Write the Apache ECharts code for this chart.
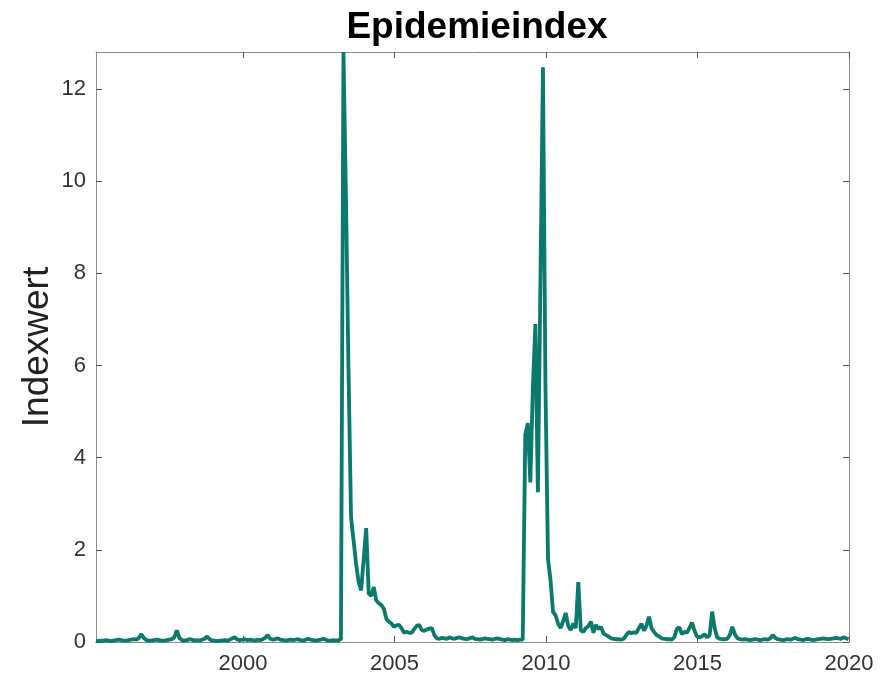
<!DOCTYPE html>
<html>
<head>
<meta charset="utf-8">
<title>Epidemieindex</title>
<script src="https://cdn.jsdelivr.net/npm/echarts@6/dist/echarts.min.js"></script>
<style>
  html, body { margin: 0; padding: 0; background: #fff; }
  #chart { width: 883px; height: 678px; }
</style>
</head>
<body>
<div id="chart"></div>
<script>
// monthly index values, first month at startYear
const startYear = 1995.15;
const indexValues = [
  0.03,0.02,0.03,0.03,0.04,0.03,0.02,0.03,0.04,0.05,0.04,0.03,
  0.03,0.04,0.05,0.06,0.05,0.09,0.17,0.08,0.04,0.03,0.03,0.04,
  0.05,0.04,0.03,0.03,0.04,0.05,0.06,0.10,0.25,0.09,0.04,0.03,
  0.04,0.06,0.05,0.03,0.04,0.03,0.05,0.07,0.12,0.06,0.03,0.03,
  0.02,0.03,0.03,0.04,0.03,0.05,0.08,0.10,0.05,0.04,0.05,0.06,
  0.04,0.05,0.04,0.03,0.05,0.04,0.06,0.09,0.15,0.07,0.05,0.06,
  0.08,0.05,0.04,0.03,0.04,0.05,0.04,0.05,0.06,0.04,0.03,0.05,
  0.07,0.05,0.04,0.03,0.04,0.05,0.07,0.05,0.03,0.03,0.04,0.03,
  0.04,0.06,12.8,9.6,5.9,2.7,2.2,1.7,1.3,1.12,1.8,2.47,
  1.05,1.0,1.19,0.9,0.84,0.8,0.72,0.5,0.44,0.4,0.33,0.36,
  0.37,0.3,0.2,0.22,0.2,0.2,0.28,0.35,0.37,0.26,0.24,0.27,
  0.29,0.3,0.15,0.08,0.07,0.09,0.08,0.07,0.1,0.08,0.07,0.09,
  0.1,0.08,0.07,0.06,0.08,0.1,0.07,0.06,0.05,0.06,0.08,0.07,
  0.06,0.05,0.07,0.08,0.06,0.05,0.04,0.06,0.05,0.04,0.05,0.04,
  0.05,0.05,4.5,4.75,3.46,5.5,6.9,3.25,7.8,12.47,5.5,1.8,
  1.35,0.65,0.58,0.4,0.3,0.45,0.63,0.35,0.26,0.4,0.3,1.3,
  0.25,0.22,0.3,0.35,0.44,0.2,0.37,0.28,0.33,0.18,0.15,0.12,
  0.08,0.07,0.06,0.06,0.05,0.07,0.15,0.22,0.19,0.21,0.2,0.3,
  0.4,0.25,0.35,0.55,0.3,0.22,0.15,0.12,0.08,0.07,0.06,0.06,
  0.05,0.1,0.28,0.32,0.17,0.22,0.2,0.3,0.42,0.25,0.12,0.1,
  0.12,0.17,0.1,0.15,0.66,0.3,0.1,0.07,0.06,0.06,0.07,0.15,
  0.33,0.17,0.08,0.06,0.05,0.06,0.05,0.04,0.05,0.06,0.05,0.04,
  0.05,0.06,0.05,0.08,0.15,0.09,0.06,0.05,0.04,0.05,0.06,0.05,
  0.07,0.09,0.06,0.05,0.04,0.06,0.07,0.05,0.04,0.05,0.06,0.07,
  0.08,0.07,0.06,0.07,0.08,0.09,0.08,0.07,0.1,0.08,0.06
];
const xTicks = [2000, 2005, 2010, 2015, 2020];
const yTicks = [0, 2, 4, 6, 8, 10, 12];

const seriesData = indexValues.map((v, i) => [startYear + i / 12, v]);

const chart = echarts.init(document.getElementById('chart'));

const axisLine = { show: true, onZero: false, lineStyle: { color: '#8c8c8c', width: 1 } };
const tick = { show: true, inside: true, length: 6, lineStyle: { color: '#555' } };
const font = 'Liberation Sans, Arial, sans-serif';

const option = {
  animation: false,
  title: {
    text: 'Epidemieindex',
    left: 472, top: 4, textAlign: 'center',
    textStyle: { fontFamily: font, fontSize: 37, fontWeight: 'bold', color: '#000' }
  },
  grid: { left: 96, right: 34, top: 52, bottom: 36 },
  xAxis: [
    {
      type: 'value', min: startYear, max: 2020,
      axisLine: axisLine,
      axisTick: Object.assign({ customValues: xTicks }, tick),
      axisLabel: {
        customValues: xTicks, formatter: v => String(v),
        fontFamily: font, fontSize: 22, color: '#333', margin: 11
      },
      splitLine: { show: false }
    },
    {
      type: 'value', position: 'top', min: startYear, max: 2020,
      axisLine: axisLine,
      axisTick: Object.assign({ customValues: xTicks }, tick),
      axisLabel: { show: false },
      splitLine: { show: false }
    }
  ],
  yAxis: [
    {
      type: 'value', min: 0, max: 12.8,
      name: 'Indexwert', nameLocation: 'middle', nameGap: 40, nameMoveOverlap: false,
      nameTextStyle: { fontFamily: font, fontSize: 37, color: '#222' },
      axisLine: axisLine,
      axisTick: Object.assign({ customValues: yTicks }, tick),
      axisLabel: { customValues: yTicks, fontFamily: font, fontSize: 22, color: '#333', margin: 10 },
      splitLine: { show: false }
    },
    {
      type: 'value', position: 'right', min: 0, max: 12.8,
      axisLine: axisLine,
      axisTick: Object.assign({ customValues: yTicks }, tick),
      axisLabel: { show: false },
      splitLine: { show: false }
    }
  ],
  series: [
    {
      type: 'line',
      data: seriesData,
      showSymbol: false,
      lineStyle: { color: '#0a7a6c', width: 3.8 },
      clip: true
    }
  ]
};

chart.setOption(option);
window.addEventListener('resize', () => chart.resize());
</script>
</body>
</html>
